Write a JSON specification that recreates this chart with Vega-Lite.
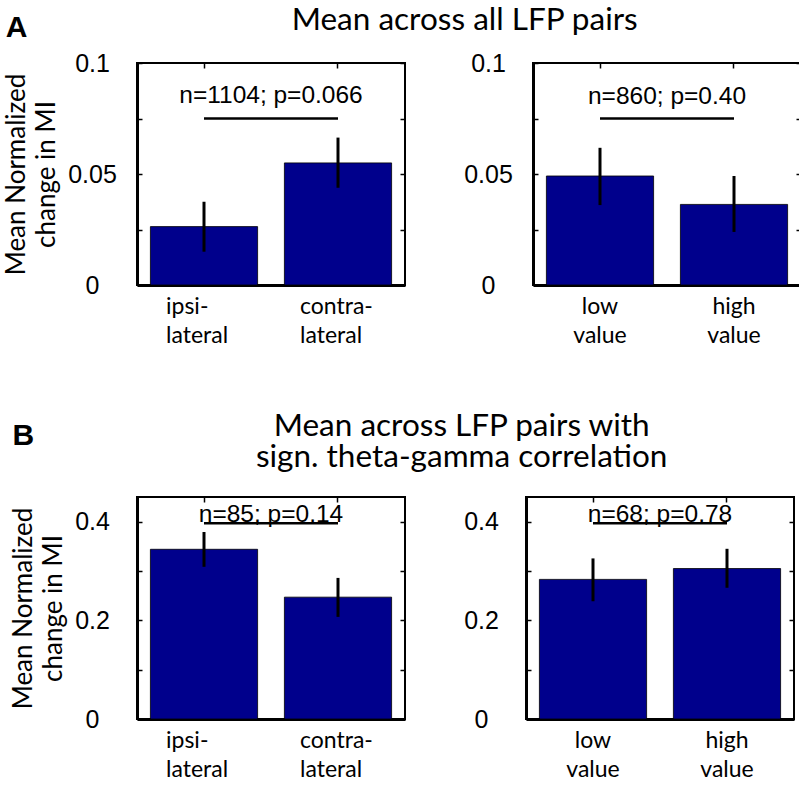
{
  "$schema": "https://vega.github.io/schema/vega-lite/v6.json",
  "padding": {"left": 2, "top": 4, "right": 0, "bottom": 0},
  "autosize": {"type": "pad"},
  "background": "white",
  "config": {
    "font": "Liberation Sans",
    "view": {"stroke": "black", "strokeWidth": 2},
    "axis": {"grid": false, "labelFont": "Liberation Sans", "labelFontSize": 25, "labelColor": "black", "tickColor": "black", "domainColor": "black", "titleColor": "black", "tickWidth": 1.5},
    "title": {"color": "black", "fontWeight": "normal"},
    "concat": {"spacing": 55}
  },
  "datasets": {
    "bars": [
      {"panel": "A1", "cond": "ipsi- lateral", "mean": 0.0263, "lo": 0.0150, "hi": 0.0375},
      {"panel": "A1", "cond": "contra- lateral", "mean": 0.0550, "lo": 0.0438, "hi": 0.0664},
      {"panel": "A2", "cond": "low value", "mean": 0.0491, "lo": 0.0360, "hi": 0.0618},
      {"panel": "A2", "cond": "high value", "mean": 0.0363, "lo": 0.0239, "hi": 0.0491},
      {"panel": "B1", "cond": "ipsi- lateral", "mean": 0.344, "lo": 0.3085, "hi": 0.379},
      {"panel": "B1", "cond": "contra- lateral", "mean": 0.247, "lo": 0.207, "hi": 0.286},
      {"panel": "B2", "cond": "low value", "mean": 0.283, "lo": 0.2387, "hi": 0.3255},
      {"panel": "B2", "cond": "high value", "mean": 0.305, "lo": 0.266, "hi": 0.345}
    ],
    "sig": [
      {"panel": "A1", "label": "n=1104; p=0.066", "from": "ipsi- lateral", "to": "contra- lateral", "y": 0.075, "ty": 0.082},
      {"panel": "A2", "label": "n=860; p=0.40", "from": "low value", "to": "high value", "y": 0.075, "ty": 0.0815},
      {"panel": "B1", "label": "n=85; p=0.14", "from": "ipsi- lateral", "to": "contra- lateral", "y": 0.397, "ty": 0.4},
      {"panel": "B2", "label": "n=68; p=0.78", "from": "low value", "to": "high value", "y": 0.397, "ty": 0.4}
    ]
  },
  "spacing": 62,
  "vconcat": [
    {
      "title": {"text": "Mean across all LFP pairs", "font": "Lato", "fontSize": 31.5, "anchor": "middle", "offset": -24, "dx": 62},
      "hconcat": [
        {
          "width": 268, "height": 222,
          "title": {"text": "A", "anchor": "start", "frame": "bounds", "font": "Liberation Sans", "fontSize": 30, "fontWeight": "bold", "offset": 8, "dx": 2},
          "layer": [
            {
              "data": {"name": "bars"},
              "transform": [{"filter": "datum.panel == 'A1'"}],
              "mark": {"type": "bar", "color": "#00008C", "stroke": "black", "strokeWidth": 0.8},
              "encoding": {
                "x": {"field": "cond", "type": "nominal", "scale": {"domain": ["ipsi- lateral", "contra- lateral"], "paddingInner": 0.2, "paddingOuter": 0.1},
                  "axis": {"orient": "bottom", "title": null, "labelAngle": 0, "labelExpr": "split(datum.label, ' ')", "labelFont": "Lato", "labelFontSize": 23, "labelLineHeight": 29, "labelAlign": "left", "labelOffset": -38, "labelBaseline": "top", "labelPadding": 15, "tickSize": -5, "domainWidth": 3}},
                "y": {"field": "mean", "type": "quantitative", "scale": {"domain": [0, 0.1], "nice": false},
                  "axis": {"orient": "left", "values": [0, 0.025, 0.05, 0.075, 0.1], "format": "~g", "labelExpr": "datum.value == 0.025 || datum.value == 0.075 ? '' : datum.label", "labelAlign": "center", "tickSize": -5, "labelPadding": 50, "domainWidth": 3,
                    "title": ["Mean Normalized", "change in MI"], "titleFont": "Lato", "titleFontSize": 26, "titleFontWeight": "normal", "titleLineHeight": 30, "titlePadding": 8}}
              }
            },
            {
              "data": {"name": "bars"},
              "transform": [{"filter": "datum.panel == 'A1'"}],
              "mark": {"type": "rule", "strokeWidth": 3, "color": "black"},
              "encoding": {
                "x": {"field": "cond", "type": "nominal", "scale": {"domain": ["ipsi- lateral", "contra- lateral"], "paddingInner": 0.2, "paddingOuter": 0.1}, "axis": {"orient": "top", "labels": false, "domain": false, "tickSize": -5, "title": null}},
                "y": {"field": "lo", "type": "quantitative", "scale": {"domain": [0, 0.1], "nice": false}, "axis": {"orient": "right", "labels": false, "domain": false, "values": [0, 0.025, 0.05, 0.075, 0.1], "tickSize": -5, "title": null}},
                "y2": {"field": "hi"}
              }
            },
            {
              "data": {"name": "sig"},
              "transform": [{"filter": "datum.panel == 'A1'"}],
              "mark": {"type": "rule", "strokeWidth": 2.5, "color": "black"},
              "encoding": {
                "x": {"field": "from", "type": "nominal", "axis": null},
                "x2": {"field": "to"},
                "y": {"field": "y", "type": "quantitative", "axis": null}
              }
            },
            {
              "data": {"name": "sig"},
              "transform": [{"filter": "datum.panel == 'A1'"}],
              "mark": {"type": "text", "fontSize": 24.5, "baseline": "alphabetic", "align": "center", "color": "black"},
              "encoding": {
                "x": {"field": "from", "type": "nominal", "bandPosition": 1.125, "axis": null},
                "y": {"field": "ty", "type": "quantitative", "axis": null},
                "text": {"field": "label"}
              }
            }
          ],
          "resolve": {"axis": {"x": "independent", "y": "independent"}}
        },
        {
          "width": 268, "height": 222,
          "layer": [
            {
              "data": {"name": "bars"},
              "transform": [{"filter": "datum.panel == 'A2'"}],
              "mark": {"type": "bar", "color": "#00008C", "stroke": "black", "strokeWidth": 0.8},
              "encoding": {
                "x": {"field": "cond", "type": "nominal", "scale": {"domain": ["low value", "high value"], "paddingInner": 0.2, "paddingOuter": 0.1},
                  "axis": {"orient": "bottom", "title": null, "labelAngle": 0, "labelExpr": "split(datum.label, ' ')", "labelFont": "Lato", "labelFontSize": 23, "labelLineHeight": 29, "labelAlign": "center", "labelBaseline": "top", "labelPadding": 15, "tickSize": -5, "domainWidth": 3}},
                "y": {"field": "mean", "type": "quantitative", "scale": {"domain": [0, 0.1], "nice": false},
                  "axis": {"orient": "left", "values": [0, 0.025, 0.05, 0.075, 0.1], "format": "~g", "labelExpr": "datum.value == 0.025 || datum.value == 0.075 ? '' : datum.label", "labelAlign": "center", "tickSize": -5, "labelPadding": 50, "domainWidth": 3, "title": null}}
              }
            },
            {
              "data": {"name": "bars"},
              "transform": [{"filter": "datum.panel == 'A2'"}],
              "mark": {"type": "rule", "strokeWidth": 3, "color": "black"},
              "encoding": {
                "x": {"field": "cond", "type": "nominal", "scale": {"domain": ["low value", "high value"], "paddingInner": 0.2, "paddingOuter": 0.1}, "axis": {"orient": "top", "labels": false, "domain": false, "tickSize": -5, "title": null}},
                "y": {"field": "lo", "type": "quantitative", "scale": {"domain": [0, 0.1], "nice": false}, "axis": {"orient": "right", "labels": false, "domain": false, "values": [0, 0.025, 0.05, 0.075, 0.1], "tickSize": -5, "title": null}},
                "y2": {"field": "hi"}
              }
            },
            {
              "data": {"name": "sig"},
              "transform": [{"filter": "datum.panel == 'A2'"}],
              "mark": {"type": "rule", "strokeWidth": 2.5, "color": "black"},
              "encoding": {
                "x": {"field": "from", "type": "nominal", "axis": null},
                "x2": {"field": "to"},
                "y": {"field": "y", "type": "quantitative", "axis": null}
              }
            },
            {
              "data": {"name": "sig"},
              "transform": [{"filter": "datum.panel == 'A2'"}],
              "mark": {"type": "text", "fontSize": 24.5, "baseline": "alphabetic", "align": "center", "color": "black"},
              "encoding": {
                "x": {"field": "from", "type": "nominal", "bandPosition": 1.125, "axis": null},
                "y": {"field": "ty", "type": "quantitative", "axis": null},
                "text": {"field": "label"}
              }
            }
          ],
          "resolve": {"axis": {"x": "independent", "y": "independent"}}
        }
      ]
    },
    {
      "title": {"text": ["Mean across LFP pairs with", "sign. theta-gamma correlation"], "lineHeight": 31, "font": "Lato", "fontSize": 31.5, "anchor": "middle", "offset": -53, "dx": 59},
      "hconcat": [
        {
          "width": 268, "height": 222,
          "title": {"text": "B", "anchor": "start", "frame": "bounds", "font": "Liberation Sans", "fontSize": 30, "fontWeight": "bold", "offset": 45, "dx": 2},
          "layer": [
            {
              "data": {"name": "bars"},
              "transform": [{"filter": "datum.panel == 'B1'"}],
              "mark": {"type": "bar", "color": "#00008C", "stroke": "black", "strokeWidth": 0.8},
              "encoding": {
                "x": {"field": "cond", "type": "nominal", "scale": {"domain": ["ipsi- lateral", "contra- lateral"], "paddingInner": 0.2, "paddingOuter": 0.1},
                  "axis": {"orient": "bottom", "title": null, "labelAngle": 0, "labelExpr": "split(datum.label, ' ')", "labelFont": "Lato", "labelFontSize": 23, "labelLineHeight": 29, "labelAlign": "left", "labelOffset": -38, "labelBaseline": "top", "labelPadding": 15, "tickSize": -5, "domainWidth": 3}},
                "y": {"field": "mean", "type": "quantitative", "scale": {"domain": [0, 0.45], "nice": false},
                  "axis": {"orient": "left", "values": [0, 0.1, 0.2, 0.3, 0.4], "format": "~g", "labelExpr": "datum.value == 0.1 || datum.value == 0.3 ? '' : datum.label", "labelAlign": "center", "tickSize": -5, "labelPadding": 50, "domainWidth": 3,
                    "title": ["Mean Normalized", "change in MI"], "titleFont": "Lato", "titleFontSize": 26, "titleFontWeight": "normal", "titleLineHeight": 30, "titlePadding": 8}}
              }
            },
            {
              "data": {"name": "bars"},
              "transform": [{"filter": "datum.panel == 'B1'"}],
              "mark": {"type": "rule", "strokeWidth": 3, "color": "black"},
              "encoding": {
                "x": {"field": "cond", "type": "nominal", "scale": {"domain": ["ipsi- lateral", "contra- lateral"], "paddingInner": 0.2, "paddingOuter": 0.1}, "axis": {"orient": "top", "labels": false, "domain": false, "tickSize": -5, "title": null}},
                "y": {"field": "lo", "type": "quantitative", "scale": {"domain": [0, 0.45], "nice": false}, "axis": {"orient": "right", "labels": false, "domain": false, "values": [0, 0.1, 0.2, 0.3, 0.4], "tickSize": -5, "title": null}},
                "y2": {"field": "hi"}
              }
            },
            {
              "data": {"name": "sig"},
              "transform": [{"filter": "datum.panel == 'B1'"}],
              "mark": {"type": "rule", "strokeWidth": 2.5, "color": "black"},
              "encoding": {
                "x": {"field": "from", "type": "nominal", "axis": null},
                "x2": {"field": "to"},
                "y": {"field": "y", "type": "quantitative", "axis": null}
              }
            },
            {
              "data": {"name": "sig"},
              "transform": [{"filter": "datum.panel == 'B1'"}],
              "mark": {"type": "text", "fontSize": 24.5, "baseline": "alphabetic", "align": "center", "color": "black"},
              "encoding": {
                "x": {"field": "from", "type": "nominal", "bandPosition": 1.125, "axis": null},
                "y": {"field": "ty", "type": "quantitative", "axis": null},
                "text": {"field": "label"}
              }
            }
          ],
          "resolve": {"axis": {"x": "independent", "y": "independent"}}
        },
        {
          "width": 268, "height": 222,
          "layer": [
            {
              "data": {"name": "bars"},
              "transform": [{"filter": "datum.panel == 'B2'"}],
              "mark": {"type": "bar", "color": "#00008C", "stroke": "black", "strokeWidth": 0.8},
              "encoding": {
                "x": {"field": "cond", "type": "nominal", "scale": {"domain": ["low value", "high value"], "paddingInner": 0.2, "paddingOuter": 0.1},
                  "axis": {"orient": "bottom", "title": null, "labelAngle": 0, "labelExpr": "split(datum.label, ' ')", "labelFont": "Lato", "labelFontSize": 23, "labelLineHeight": 29, "labelAlign": "center", "labelBaseline": "top", "labelPadding": 15, "tickSize": -5, "domainWidth": 3}},
                "y": {"field": "mean", "type": "quantitative", "scale": {"domain": [0, 0.45], "nice": false},
                  "axis": {"orient": "left", "values": [0, 0.1, 0.2, 0.3, 0.4], "format": "~g", "labelExpr": "datum.value == 0.1 || datum.value == 0.3 ? '' : datum.label", "labelAlign": "center", "tickSize": -5, "labelPadding": 50, "domainWidth": 3, "title": null}}
              }
            },
            {
              "data": {"name": "bars"},
              "transform": [{"filter": "datum.panel == 'B2'"}],
              "mark": {"type": "rule", "strokeWidth": 3, "color": "black"},
              "encoding": {
                "x": {"field": "cond", "type": "nominal", "scale": {"domain": ["low value", "high value"], "paddingInner": 0.2, "paddingOuter": 0.1}, "axis": {"orient": "top", "labels": false, "domain": false, "tickSize": -5, "title": null}},
                "y": {"field": "lo", "type": "quantitative", "scale": {"domain": [0, 0.45], "nice": false}, "axis": {"orient": "right", "labels": false, "domain": false, "values": [0, 0.1, 0.2, 0.3, 0.4], "tickSize": -5, "title": null}},
                "y2": {"field": "hi"}
              }
            },
            {
              "data": {"name": "sig"},
              "transform": [{"filter": "datum.panel == 'B2'"}],
              "mark": {"type": "rule", "strokeWidth": 2.5, "color": "black"},
              "encoding": {
                "x": {"field": "from", "type": "nominal", "axis": null},
                "x2": {"field": "to"},
                "y": {"field": "y", "type": "quantitative", "axis": null}
              }
            },
            {
              "data": {"name": "sig"},
              "transform": [{"filter": "datum.panel == 'B2'"}],
              "mark": {"type": "text", "fontSize": 24.5, "baseline": "alphabetic", "align": "center", "color": "black"},
              "encoding": {
                "x": {"field": "from", "type": "nominal", "bandPosition": 1.125, "axis": null},
                "y": {"field": "ty", "type": "quantitative", "axis": null},
                "text": {"field": "label"}
              }
            }
          ],
          "resolve": {"axis": {"x": "independent", "y": "independent"}}
        }
      ]
    }
  ]
}
